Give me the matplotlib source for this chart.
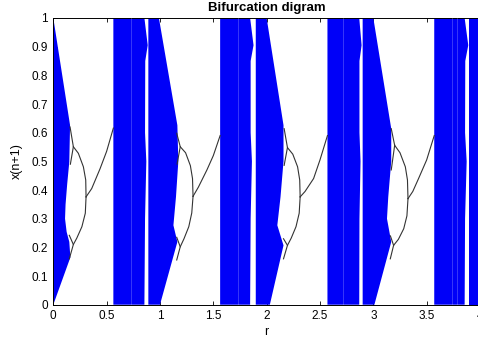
import matplotlib
matplotlib.use("Agg")
import matplotlib.pyplot as plt

plt.rcParams['font.family'] = ['Liberation Sans', 'DejaVu Sans']

# ---- data ----
title = "Bifurcation digram"
xlabel = "r"
ylabel = "x(n+1)"
xticks = [0, 0.5, 1, 1.5, 2, 2.5, 3, 3.5, 4]
xticklabels = ["0", "0.5", "1", "1.5", "2", "2.5", "3", "3.5", "4"]
yticks = [0, 0.1, 0.2, 0.3, 0.4, 0.5, 0.6, 0.7, 0.8, 0.9, 1]
yticklabels = ["0", "0.1", "0.2", "0.3", "0.4", "0.5", "0.6", "0.7", "0.8", "0.9", "1"]

# blue chaotic regions: outline polygons (r, x)
wedge0_r = [0, 0.157, 0.15, 0.13, 0.115, 0.11, 0.125, 0.15, 0.16, 0]
wedge0_y = [1, 0.626, 0.498, 0.42, 0.35, 0.30, 0.254, 0.219, 0.165, 0]

band1_r = [0.563, 0.854, 0.885, 0.862, 0.86, 0.872, 0.86, 0.854, 0.563]
band1_y = [1, 1, 0.905, 0.85, 0.6, 0.5, 0.3, 0, 0]
band2_r = [0.891, 0.99, 1.163, 1.172, 1.15, 1.126, 1.163, 1.0, 0.891]
band2_y = [1, 1, 0.626, 0.5, 0.376, 0.277, 0.219, 0, 0]

band3_r = [1.564, 1.845, 1.877, 1.85, 1.85, 1.862, 1.85, 1.845, 1.564]
band3_y = [1, 1, 0.905, 0.85, 0.6, 0.5, 0.3, 0, 0]
band4_r = [1.898, 2.0, 2.158, 2.158, 2.13, 2.1, 2.158, 2.03, 1.898]
band4_y = [1, 1, 0.626, 0.5, 0.376, 0.277, 0.207, 0, 0]

band5_r = [2.57, 2.868, 2.89, 2.87, 2.87, 2.88, 2.87, 2.868, 2.57]
band5_y = [1, 1, 0.905, 0.85, 0.6, 0.5, 0.3, 0, 0]
band6_r = [2.9, 3.0, 3.168, 3.168, 3.14, 3.128, 3.168, 3.01, 2.9]
band6_y = [1, 1, 0.614, 0.5, 0.376, 0.3, 0.219, 0, 0]

band7_r = [3.571, 3.856, 3.89, 3.862, 3.86, 3.875, 3.86, 3.856, 3.571]
band7_y = [1, 1, 0.905, 0.85, 0.6, 0.5, 0.3, 0, 0]
band8_r = [3.9, 4.05, 4.05, 3.9]
band8_y = [1, 1, 0, 0]

blue_r = [wedge0_r, band1_r, band2_r, band3_r, band4_r, band5_r, band6_r, band7_r, band8_r]
blue_y = [wedge0_y, band1_y, band2_y, band3_y, band4_y, band5_y, band6_y, band7_y, band8_y]

# faint light streaks inside the bands
streak_r = [0.726, 1.73, 2.72, 3.737, 3.78]

# black periodic-orbit curves (r, x)
curves_r = [
    [0.563, 0.50, 0.438, 0.36, 0.307],
    [0.307, 0.304, 0.282, 0.235, 0.188, 0.157],
    [0.188, 0.16],
    [0.307, 0.30, 0.268, 0.22, 0.188, 0.15],
    [0.188, 0.15],
    [1.564, 1.50, 1.44, 1.36, 1.31],
    [1.31, 1.305, 1.285, 1.24, 1.19, 1.157],
    [1.19, 1.16],
    [1.31, 1.298, 1.27, 1.225, 1.19, 1.157],
    [1.19, 1.157],
    [2.57, 2.50, 2.44, 2.36, 2.314],
    [2.314, 2.31, 2.29, 2.245, 2.195, 2.164],
    [2.195, 2.164],
    [2.314, 2.305, 2.275, 2.23, 2.195, 2.158],
    [2.195, 2.158],
    [3.571, 3.50, 3.424, 3.37, 3.325],
    [3.325, 3.32, 3.30, 3.25, 3.2, 3.168],
    [3.2, 3.168],
    [3.325, 3.315, 3.285, 3.235, 3.19, 3.159],
    [3.19, 3.16],
]
curves_y = [
    [0.616, 0.535, 0.474, 0.405, 0.376],
    [0.376, 0.435, 0.481, 0.528, 0.551, 0.62],
    [0.551, 0.49],
    [0.376, 0.319, 0.272, 0.232, 0.21, 0.16],
    [0.21, 0.242],
    [0.59, 0.52, 0.47, 0.41, 0.378],
    [0.378, 0.44, 0.485, 0.53, 0.551, 0.598],
    [0.551, 0.49],
    [0.378, 0.32, 0.272, 0.23, 0.202, 0.156],
    [0.202, 0.235],
    [0.59, 0.505, 0.44, 0.395, 0.376],
    [0.376, 0.435, 0.481, 0.525, 0.548, 0.614],
    [0.548, 0.486],
    [0.376, 0.319, 0.272, 0.232, 0.207, 0.16],
    [0.207, 0.23],
    [0.59, 0.505, 0.44, 0.395, 0.37],
    [0.37, 0.435, 0.481, 0.53, 0.556, 0.614],
    [0.556, 0.47],
    [0.37, 0.31, 0.265, 0.228, 0.207, 0.16],
    [0.207, 0.24],
]

# ---- figure ----
fig = plt.figure(figsize=(4.78, 3.44), dpi=100)
ax = fig.add_axes([53.3 / 478, 39.3 / 344, (480 - 53.3) / 478, (326 - 39.3) / 344])

for rr, yy in zip(blue_r, blue_y):
    ax.fill(rr, yy, color='#0000f8', lw=0, zorder=2)

for r in streak_r:
    ax.plot([r, r], [0, 1], color='white', lw=0.5, alpha=0.3, zorder=3)

for rr, yy in zip(curves_r, curves_y):
    ax.plot(rr, yy, color='0.2', lw=0.8, zorder=4)

ax.set_xlim(0, 4)
ax.set_ylim(0, 1)
ax.set_xticks(xticks)
ax.set_xticklabels(xticklabels)
ax.set_yticks(yticks)
ax.set_yticklabels(yticklabels)
ax.tick_params(direction='in', length=3, width=0.6, labelsize=8.5, top=True, right=True, pad=4)
for s in ax.spines.values():
    s.set_linewidth(0.7)

ax.set_title(title, fontsize=9.5, fontweight='bold', pad=5)
ax.set_xlabel(xlabel, fontsize=9, labelpad=3)
ax.set_ylabel(ylabel, fontsize=9, labelpad=6)

fig.savefig("out.png", dpi=100)
